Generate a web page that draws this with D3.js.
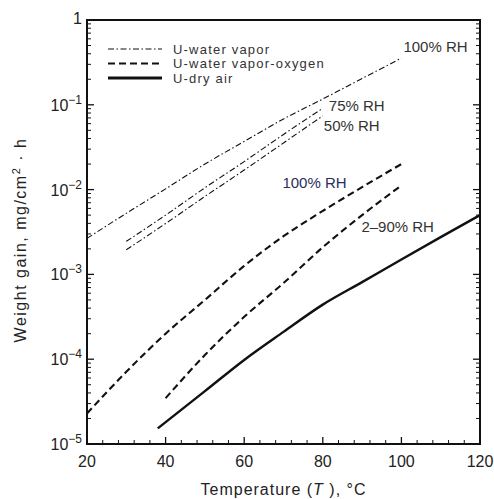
<!DOCTYPE html>
<html>
<head>
<meta charset="utf-8">
<script src="https://cdn.jsdelivr.net/npm/d3@7"></script>
<style>
    html, body { margin: 0; padding: 0; background: #fff; }
    svg { display: block; font-family: 'Liberation Sans', Arial, sans-serif; }
</style>
</head>
<body>
<svg id="chart" width="494" height="499"></svg>
<script>
// temperatures (°C) and weight gain (mg/cm2·h)
const tempVapor100 = [20, 30, 40, 50, 60, 70, 80, 90, 100];
const gainVapor100 = [2.66e-3, 5.25e-3, 1.02e-2, 2.0e-2, 3.7e-2, 6.8e-2, 0.117, 0.204, 0.355];

const tempVapor75 = [30, 40, 50, 60, 70, 80];
const gainVapor75 = [2.45e-3, 5.0e-3, 1.05e-2, 2.14e-2, 4.47e-2, 9.1e-2];

const tempVapor50 = [30, 40, 50, 60, 70, 80];
const gainVapor50 = [1.95e-3, 3.98e-3, 8.3e-3, 1.7e-2, 3.55e-2, 7.4e-2];

const tempOxy100 = [20, 30, 40, 50, 60, 70, 80, 90, 100];
const gainOxy100 = [2.29e-5, 7.1e-5, 2.0e-4, 5.0e-4, 1.26e-3, 2.82e-3, 5.6e-3, 1.07e-2, 2.0e-2];

const tempOxy2to90 = [40, 50, 60, 70, 80, 90, 100];
const gainOxy2to90 = [3.47e-5, 1.12e-4, 3.16e-4, 7.9e-4, 2.09e-3, 5.0e-3, 1.12e-2];

const tempDryAir = [38, 50, 60, 70, 80, 90, 100, 110, 120];
const gainDryAir = [1.53e-5, 4.2e-5, 9.8e-5, 2.1e-4, 4.4e-4, 8.1e-4, 1.5e-3, 2.75e-3, 5.0e-3];

const xTicks = [20, 40, 60, 80, 100, 120];
const yTickExponents = [0, -1, -2, -3, -4, -5];

const legendLabels = ['U-water vapor', 'U-water vapor-oxygen', 'U-dry air'];

(function() {
    'use strict';

    const margin = { top: 20, right: 14, bottom: 55, left: 87 };
    const svg = d3.select('#chart');
    const width = 494 - margin.left - margin.right;
    const height = 499 - margin.top - margin.bottom;

    const g = svg.append('g')
        .attr('transform', `translate(${margin.left},${margin.top})`);

    const x = d3.scaleLinear().domain([20, 120]).range([0, width]);
    const y = d3.scaleLog().domain([1e-5, 1]).range([height, 0]);

    const styles = {
        dashdot: { width: 1.1, dash: '6,2.5,1.5,2.5' },
        dashed: { width: 2.1, dash: '7,4' },
        solid: { width: 2.4, dash: null }
    };

    const series = [
        { t: tempVapor100, v: gainVapor100, style: 'dashdot' },
        { t: tempVapor75, v: gainVapor75, style: 'dashdot' },
        { t: tempVapor50, v: gainVapor50, style: 'dashdot' },
        { t: tempOxy100, v: gainOxy100, style: 'dashed' },
        { t: tempOxy2to90, v: gainOxy2to90, style: 'dashed' },
        { t: tempDryAir, v: gainDryAir, style: 'solid' }
    ];

    // minor ticks on the log axis: 2..9 in each decade
    const yMinor = [];
    for (let e = -5; e < 0; e++) {
        for (let m = 2; m <= 9; m++) yMinor.push(m * Math.pow(10, e));
    }
    const xMinor = d3.range(20, 121, 4).filter(d => d % 20 !== 0);

    const axisColor = '#111';

    // left and right ticks (inward)
    [0, width].forEach(edge => {
        const dir = edge === 0 ? 1 : -1;
        g.append('g')
            .selectAll('line')
            .data(yMinor)
            .enter()
            .append('line')
            .attr('x1', edge).attr('x2', edge + dir * 4)
            .attr('y1', d => y(d)).attr('y2', d => y(d))
            .attr('stroke', axisColor).attr('stroke-width', 1);
        g.append('g')
            .selectAll('line')
            .data(yTickExponents)
            .enter()
            .append('line')
            .attr('x1', edge).attr('x2', edge + dir * 7)
            .attr('y1', d => y(Math.pow(10, d))).attr('y2', d => y(Math.pow(10, d)))
            .attr('stroke', axisColor).attr('stroke-width', 1.3);
    });

    // bottom ticks (inward)
    g.append('g')
        .selectAll('line')
        .data(xMinor)
        .enter()
        .append('line')
        .attr('x1', d => x(d)).attr('x2', d => x(d))
        .attr('y1', height).attr('y2', height - 4)
        .attr('stroke', axisColor).attr('stroke-width', 1);
    g.append('g')
        .selectAll('line')
        .data(xTicks)
        .enter()
        .append('line')
        .attr('x1', d => x(d)).attr('x2', d => x(d))
        .attr('y1', height).attr('y2', height - 7)
        .attr('stroke', axisColor).attr('stroke-width', 1.3);

    // frame
    g.append('rect')
        .attr('x', 0).attr('y', 0)
        .attr('width', width).attr('height', height)
        .attr('fill', 'none')
        .attr('stroke', axisColor)
        .attr('stroke-width', 2);

    // tick labels
    g.append('g')
        .selectAll('text')
        .data(xTicks)
        .enter()
        .append('text')
        .attr('x', d => x(d))
        .attr('y', height + 23)
        .attr('text-anchor', 'middle')
        .style('font-size', '16px')
        .style('fill', '#222')
        .text(d => d);

    const yLabels = g.append('g')
        .selectAll('text')
        .data(yTickExponents)
        .enter()
        .append('text')
        .attr('x', -5)
        .attr('y', d => y(Math.pow(10, d)) + 6)
        .attr('text-anchor', 'end')
        .style('font-size', '16px')
        .style('fill', '#222');
    yLabels.filter(d => d === 0).text('1').attr('y', 4);
    yLabels.filter(d => d !== 0).each(function(d) {
        const t = d3.select(this);
        t.append('tspan').text('10');
        t.append('tspan')
            .attr('dy', -7)
            .style('font-size', '12px')
            .text('\u2212' + (-d));
    });

    // axis titles
    const xTitle = svg.append('text')
        .attr('x', margin.left + width / 2)
        .attr('y', 495)
        .attr('text-anchor', 'middle')
        .style('font-size', '16px')
        .style('letter-spacing', '1px')
        .style('fill', '#222');
    xTitle.append('tspan').text('Temperature (');
    xTitle.append('tspan').style('font-style', 'italic').text('T ');
    xTitle.append('tspan').text('), \u00B0C');

    const yTitle = svg.append('text')
        .attr('transform', 'translate(26,240) rotate(-90)')
        .attr('text-anchor', 'middle')
        .style('font-size', '16px')
        .style('letter-spacing', '1.5px')
        .style('fill', '#222');
    yTitle.append('tspan').text('Weight gain, mg/cm');
    yTitle.append('tspan').attr('dy', -6).style('font-size', '11px').text('2');
    yTitle.append('tspan').attr('dy', 6).text(' \u00B7 h');

    // curves
    const line = d3.line()
        .x(d => x(d[0]))
        .y(d => y(d[1]))
        .curve(d3.curveMonotoneX);

    g.append('g')
        .selectAll('path')
        .data(series)
        .enter()
        .append('path')
        .attr('d', d => line(d.t.map((t, i) => [t, d.v[i]])))
        .attr('fill', 'none')
        .attr('stroke', '#111')
        .attr('stroke-width', d => styles[d.style].width)
        .attr('stroke-dasharray', d => styles[d.style].dash);

    // curve labels, placed next to the end of each curve
    const curveLabels = [
        { text: '100% RH', t: 100, v: 0.355, dx: 2, dy: -6, color: '#333' },
        { text: '75% RH', t: 80, v: 9.1e-2, dx: 6, dy: 3, color: '#333' },
        { text: '50% RH', t: 80, v: 7.4e-2, dx: 1, dy: 15, color: '#333' },
        { text: '100% RH', t: 100, v: 2.0e-2, dx: -119, dy: 24, color: '#2a2d5e' },
        { text: '2\u201390% RH', t: 100, v: 1.12e-2, dx: -40, dy: 47, color: '#333' }
    ];
    g.append('g')
        .selectAll('text')
        .data(curveLabels)
        .enter()
        .append('text')
        .attr('x', d => x(d.t) + d.dx)
        .attr('y', d => y(d.v) + d.dy)
        .style('font-size', '15px')
        .style('fill', d => d.color)
        .text(d => d.text);

    // legend
    const legend = g.append('g')
        .attr('transform', 'translate(21,29)');
    const legendStyles = ['dashdot', 'dashed', 'solid'];
    const legendRow = legend.selectAll('g')
        .data(legendLabels)
        .enter()
        .append('g')
        .attr('transform', (d, i) => `translate(0,${i * 14.5})`);
    legendRow.append('line')
        .attr('x1', 0).attr('x2', 54)
        .attr('stroke', '#111')
        .attr('stroke-width', (d, i) => styles[legendStyles[i]].width + (i === 2 ? 0.8 : 0))
        .attr('stroke-dasharray', (d, i) => styles[legendStyles[i]].dash);
    legendRow.append('text')
        .attr('x', 65)
        .attr('y', 4.5)
        .style('font-size', '13px')
        .style('letter-spacing', '1.2px')
        .style('fill', '#333')
        .text(d => d);
})();
</script>
</body>
</html>
